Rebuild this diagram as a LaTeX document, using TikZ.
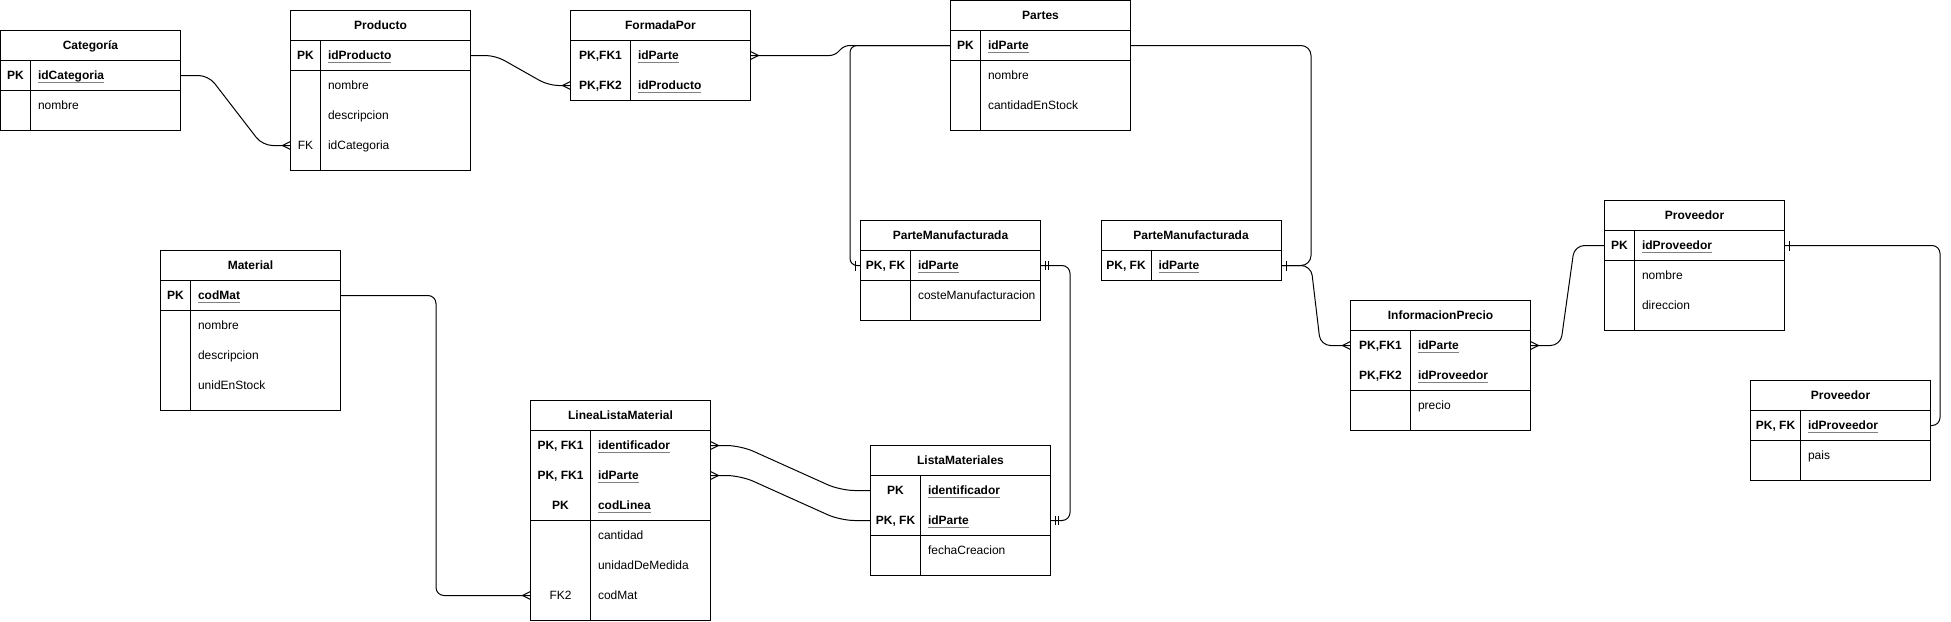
\documentclass[tikz,border=0pt]{standalone}
\usepackage{fontspec}
\setmainfont{Liberation Sans}
\usetikzlibrary{calc}
\definecolor{ulgray}{HTML}{808080}
\newcommand{\ERul}[1]{\setbox0=\hbox{#1}\rlap{\textcolor{ulgray}{\rule[-2.8pt]{\wd0}{0.9pt}}}\box0}
\tikzset{
  erline/.style={line width=1pt, black},
  erbox/.style={draw, line width=1pt, anchor=north west, minimum width=180pt, inner sep=0pt, outer sep=0pt},
  errow/.style={anchor=north west, minimum width=180pt, minimum height=30pt, inner sep=0pt, outer sep=0pt},
  ertxt/.style={inner sep=0pt, outer sep=0pt, font=\fontsize{12pt}{14pt}\selectfont},
  ertitle/.style={ertxt, anchor=base, font=\fontsize{12pt}{14pt}\selectfont\bfseries},
  erconn/.style={line width=1pt, rounded corners=8pt},
  ermark/.style={line width=1pt},
}
% table frame: name, x, y, key width, height, title
\newcommand{\ERtable}[6]{%
  \node[erbox, minimum height=#5pt] (#1) at (#2,#3) {};
  \node[ertitle] (#1-title) at ([yshift=-19.2pt]#1.north) {#6};
  \draw[erline] ([yshift=-30pt]#1.north west) -- ([yshift=-30pt]#1.north east);
  \draw[erline] ([xshift=#4pt,yshift=-30pt]#1.north west) -- ([xshift=#4pt]#1.south west);
}
\newcommand{\ERsep}[2]{\draw[erline] ([yshift=-#2pt]#1.north west) -- ([yshift=-#2pt]#1.north east);}
% key row: name, table, index, key width, key, field
\newcommand{\ERpk}[6]{%
  \node[errow] (#1) at ([yshift=-30pt-30pt*#3]#2.north west) {};
  \node[ertxt, anchor=base] (#1-key) at ([xshift=0.5pt*#4, yshift=-19.2pt]#1.north west) {\bfseries #5};
  \node[ertxt, anchor=base west] (#1-name) at ([xshift=#4pt+7.5pt, yshift=-19.2pt]#1.north west) {\bfseries\ERul{#6}};
}
% attribute row: name, table, index, key width, key, field
\newcommand{\ERattr}[6]{%
  \node[errow] (#1) at ([yshift=-30pt-30pt*#3]#2.north west) {};
  \if\relax\detokenize{#5}\relax\else
  \node[ertxt, anchor=base] (#1-key) at ([xshift=0.5pt*#4, yshift=-19.2pt]#1.north west) {#5};
  \fi
  \node[ertxt, anchor=base west] (#1-name) at ([xshift=#4pt+7.5pt, yshift=-19.2pt]#1.north west) {#6};
}
% markers
\newcommand{\crowW}[1]{\draw[ermark] ([yshift=4pt]#1) -- ([xshift=-8pt]#1) -- ([yshift=-4pt]#1);}
\newcommand{\crowE}[1]{\draw[ermark] ([yshift=4pt]#1) -- ([xshift=8pt]#1) -- ([yshift=-4pt]#1);}
\newcommand{\oneW}[1]{\draw[ermark] ([xshift=-5pt,yshift=5pt]#1) -- ([xshift=-5pt,yshift=-5pt]#1);}
\newcommand{\oneE}[1]{\draw[ermark] ([xshift=5pt,yshift=5pt]#1) -- ([xshift=5pt,yshift=-5pt]#1);}
\newcommand{\twoE}[1]{\draw[ermark] ([xshift=4.5pt,yshift=4.5pt]#1) -- ([xshift=4.5pt,yshift=-4.5pt]#1) ([xshift=8pt,yshift=4.5pt]#1) -- ([xshift=8pt,yshift=-4.5pt]#1);}
\begin{document}
\begin{tikzpicture}[x=1pt,y=-1pt]
\useasboundingbox (0,0) rectangle (1951,621);

% Categoria
\ERtable{cat}{0.5}{30.5}{30}{100}{Categoría}
\ERsep{cat}{60}
\ERpk{cat-r0}{cat}{0}{30}{PK}{idCategoria}
\ERattr{cat-r1}{cat}{1}{30}{}{nombre}

% Producto
\ERtable{prod}{290.5}{10.5}{30}{160}{Producto}
\ERsep{prod}{60}
\ERpk{prod-r0}{prod}{0}{30}{PK}{idProducto}
\ERattr{prod-r1}{prod}{1}{30}{}{nombre}
\ERattr{prod-r2}{prod}{2}{30}{}{descripcion}
\ERattr{prod-r3}{prod}{3}{30}{FK}{idCategoria}

% FormadaPor
\ERtable{form}{570.5}{10.5}{60}{90}{FormadaPor}
\ERpk{form-r0}{form}{0}{60}{PK,FK1}{idParte}
\ERpk{form-r1}{form}{1}{60}{PK,FK2}{idProducto}

% Partes
\ERtable{partes}{950.5}{0.5}{30}{130}{Partes}
\ERsep{partes}{60}
\ERpk{partes-r0}{partes}{0}{30}{PK}{idParte}
\ERattr{partes-r1}{partes}{1}{30}{}{nombre}
\ERattr{partes-r2}{partes}{2}{30}{}{cantidadEnStock}

% ParteManufacturada (1)
\ERtable{pm1}{860.5}{220.5}{50}{100}{ParteManufacturada}
\ERsep{pm1}{60}
\ERpk{pm1-r0}{pm1}{0}{50}{PK, FK}{idParte}
\ERattr{pm1-r1}{pm1}{1}{50}{}{costeManufacturacion}

% ParteManufacturada (2)
\ERtable{pm2}{1101}{220.5}{50}{60}{ParteManufacturada}
\ERpk{pm2-r0}{pm2}{0}{50}{PK, FK}{idParte}

% InformacionPrecio
\ERtable{info}{1350.5}{300.5}{60}{130}{InformacionPrecio}
\ERsep{info}{90}
\ERpk{info-r0}{info}{0}{60}{PK,FK1}{idParte}
\ERpk{info-r1}{info}{1}{60}{PK,FK2}{idProveedor}
\ERattr{info-r2}{info}{2}{60}{}{precio}

% Proveedor (1)
\ERtable{prov1}{1604.5}{200.5}{30}{130}{Proveedor}
\ERsep{prov1}{60}
\ERpk{prov1-r0}{prov1}{0}{30}{PK}{idProveedor}
\ERattr{prov1-r1}{prov1}{1}{30}{}{nombre}
\ERattr{prov1-r2}{prov1}{2}{30}{}{direccion}

% Proveedor (2)
\ERtable{prov2}{1750.5}{380.5}{50}{100}{Proveedor}
\ERsep{prov2}{60}
\ERpk{prov2-r0}{prov2}{0}{50}{PK, FK}{idProveedor}
\ERattr{prov2-r1}{prov2}{1}{50}{}{pais}

% Material
\ERtable{mat}{160.5}{250.5}{30}{160}{Material}
\ERsep{mat}{60}
\ERpk{mat-r0}{mat}{0}{30}{PK}{codMat}
\ERattr{mat-r1}{mat}{1}{30}{}{nombre}
\ERattr{mat-r2}{mat}{2}{30}{}{descripcion}
\ERattr{mat-r3}{mat}{3}{30}{}{unidEnStock}

% LineaListaMaterial
\ERtable{llm}{530.5}{400.5}{60}{220}{LineaListaMaterial}
\ERsep{llm}{120}
\ERpk{llm-r0}{llm}{0}{60}{PK, FK1}{identificador}
\ERpk{llm-r1}{llm}{1}{60}{PK, FK1}{idParte}
\ERpk{llm-r2}{llm}{2}{60}{PK}{codLinea}
\ERattr{llm-r3}{llm}{3}{60}{}{cantidad}
\ERattr{llm-r4}{llm}{4}{60}{}{unidadDeMedida}
\ERattr{llm-r5}{llm}{5}{60}{FK2}{codMat}

% ListaMateriales
\ERtable{lista}{870.5}{445.5}{50}{130}{ListaMateriales}
\ERsep{lista}{90}
\ERpk{lista-r0}{lista}{0}{50}{PK}{identificador}
\ERpk{lista-r1}{lista}{1}{50}{PK, FK}{idParte}
\ERattr{lista-r2}{lista}{2}{50}{}{fechaCreacion}

% ---------------- connectors ----------------
\draw[erconn, rounded corners=10pt] (cat-r0.east) -- ++(28,0) -- ($(prod-r3.west)+(-28,0)$) -- (prod-r3.west);
\crowW{prod-r3.west}

\draw[erconn, rounded corners=10pt] (prod-r0.east) -- ++(25,0) -- ($(form-r1.west)+(-22,0)$) -- (form-r1.west);
\crowW{form-r1.west}

\draw[erconn, rounded corners=5pt] (form-r0.east) -- ++(84,0) -- ++(10,-10) -- (partes-r0.west);
\crowE{form-r0.east}

\draw[erconn, rounded corners=7pt] (partes-r0.west) -- ++(-100.5,0) |- (pm1-r0.west);
\oneW{pm1-r0.west}

\draw[erconn, rounded corners=10pt] (partes-r0.east) -- ++(180.5,0) |- (pm2-r0.east);
\oneE{pm2-r0.east}

\draw[erconn, rounded corners=10pt] (pm2-r0.east) -- ++(30,0) -- ($(info-r0.west)+(-30,0)$) -- (info-r0.west);
\crowW{info-r0.west}

\draw[erconn, rounded corners=10pt] (info-r0.east) -- ++(30,0) -- ($(prov1-r0.west)+(-30,0)$) -- (prov1-r0.west);
\crowE{info-r0.east}

\draw[erconn, rounded corners=8pt] (prov1-r0.east) -- ++(155.5,0) |- (prov2-r0.east);
\oneE{prov1-r0.east}

\draw[erconn, rounded corners=8pt] (mat-r0.east) -- ++(95.5,0) |- (llm-r5.west);
\crowW{llm-r5.west}

\draw[erconn, rounded corners=14pt] (llm-r0.east) -- ++(30,0) -- ($(lista-r0.west)+(-30,0)$) -- (lista-r0.west);
\crowE{llm-r0.east}
\draw[erconn, rounded corners=14pt] (llm-r1.east) -- ++(30,0) -- ($(lista-r1.west)+(-30,0)$) -- (lista-r1.west);
\crowE{llm-r1.east}

\draw[erconn, rounded corners=8pt] (pm1-r0.east) -- ++(29.5,0) |- (lista-r1.east);
\twoE{pm1-r0.east}
\twoE{lista-r1.east}
\end{tikzpicture}
\end{document}
